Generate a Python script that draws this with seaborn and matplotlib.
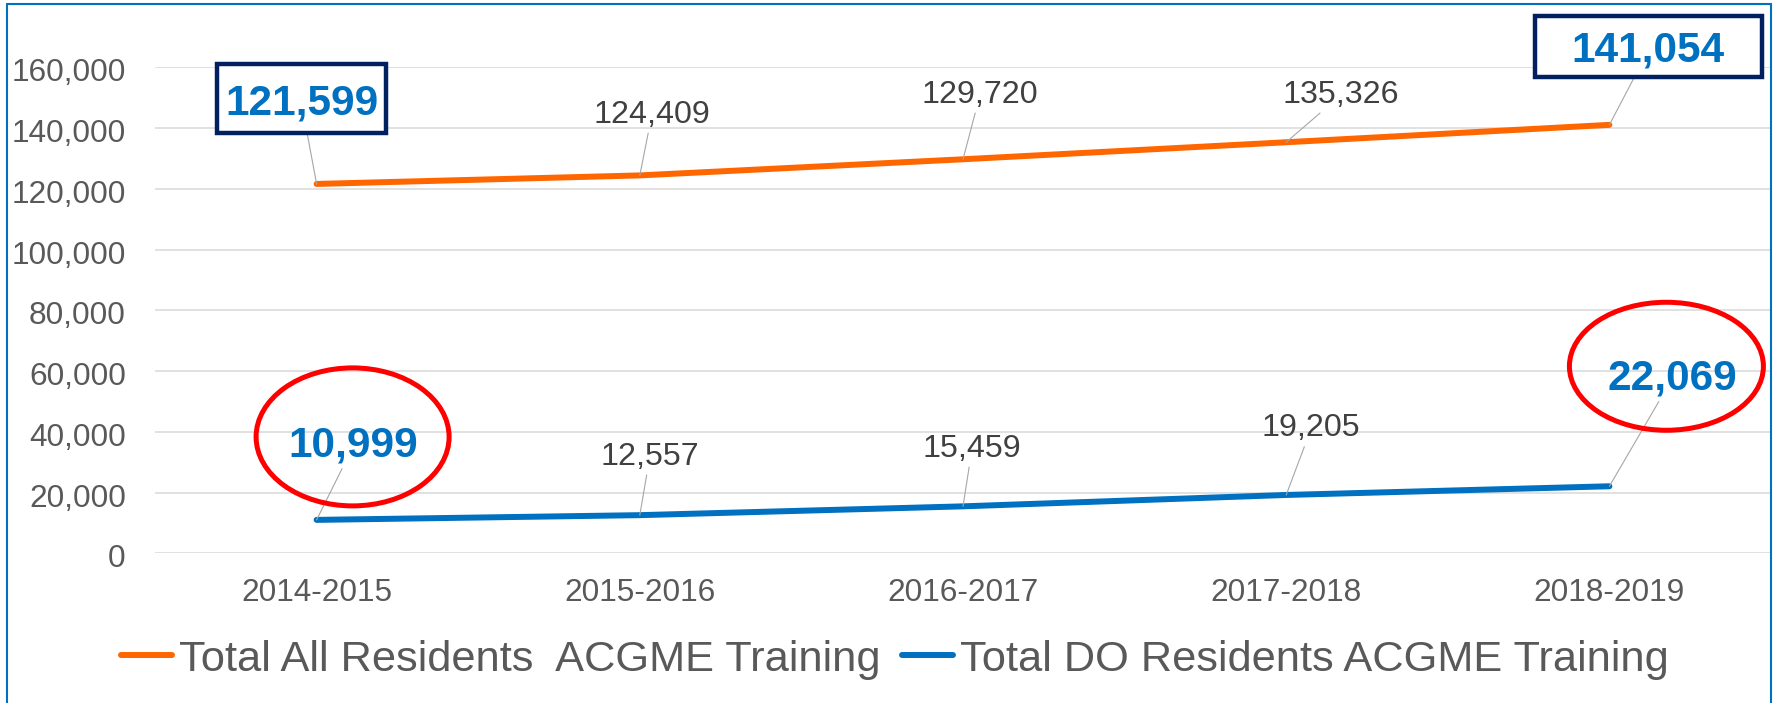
import matplotlib
matplotlib.use("Agg")
import matplotlib.pyplot as plt
import matplotlib.transforms as mtransforms
from matplotlib.path import Path
from matplotlib.patches import Ellipse
from matplotlib.lines import Line2D
from matplotlib.ticker import FixedLocator, FuncFormatter
from functools import partial
import pandas as pd
import seaborn as sns

# ---------------- data ----------------
years = ["2014-2015", "2015-2016", "2016-2017", "2017-2018", "2018-2019"]
all_residents = [121599, 124409, 129720, 135326, 141054]
do_residents = [10999, 12557, 15459, 19205, 22069]
series_names = ["Total All Residents  ACGME Training",
                "Total DO Residents ACGME Training"]
y_ticks = [0, 20000, 40000, 60000, 80000, 100000, 120000, 140000, 160000]

# ---------------- style ----------------
ORANGE = "#FF6600"
BLUE = "#0070C0"
NAVY = "#002060"
GRID = "#D9D9D9"
TICK = "#595959"
LABEL = "#404040"
LEADER = "#A6A6A6"

W, H, DPI = 1776, 703, 100

sns.set_theme(style="white")
plt.rcParams["font.family"] = ["Liberation Sans", "DejaVu Sans"]

fig = plt.figure(figsize=(W / DPI, H / DPI), dpi=DPI)
fig.patch.set_facecolor("white")
ax = fig.add_axes([155 / W, (H - 553.3) / H, (1771 - 155) / W, (553.3 - 67.3) / H])

df = pd.DataFrame({
    "Year": years * 2,
    "Residents": all_residents + do_residents,
    "Series": [series_names[0]] * len(years) + [series_names[1]] * len(years),
})
sns.lineplot(data=df, x="Year", y="Residents", hue="Series",
             palette=[ORANGE, BLUE], linewidth=4.3, sort=False,
             legend=False, ax=ax, solid_capstyle="round", zorder=3)

ax.set_xlim(-0.5, len(years) - 0.5)
ax.set_ylim(y_ticks[0], y_ticks[-1])
ax.yaxis.set_major_locator(FixedLocator(y_ticks))
ax.yaxis.set_major_formatter(FuncFormatter(lambda v, p: f"{v:,.0f}"))
ax.grid(axis="y", color=GRID, linewidth=1.1)
ax.grid(axis="x", visible=False)
ax.set_axisbelow(True)
ax.tick_params(axis="both", length=0, labelsize=22.8, labelcolor=TICK)
ax.tick_params(axis="y", pad=21)
ax.tick_params(axis="x", pad=18)
ax.set_xlabel("")
ax.set_ylabel("")
for s in ax.spines.values():
    s.set_visible(False)
ytl_shift = mtransforms.ScaledTranslation(0, -2.5 / DPI, fig.dpi_scale_trans)
for lab in ax.get_yticklabels():
    lab.set_transform(lab.get_transform() + ytl_shift)


def rect_box(x0, y0, width, height, mutation_size, padx=0.3, padtop=0.3, padbottom=0.3):
    px = padx * mutation_size
    pt, pb = padtop * mutation_size, padbottom * mutation_size
    verts = [(x0 - px, y0 - pb), (x0 + width + px, y0 - pb),
             (x0 + width + px, y0 + height + pt), (x0 - px, y0 + height + pt),
             (x0 - px, y0 - pb)]
    return Path(verts, closed=True)


# label offsets (pixels, relative to the point)
all_offsets = [(-15, 80.5), (12, 60.5), (17, 64.5), (55, 47.5), (39, 74.5)]
do_offsets = [(37, 74.5), (10, 58.5), (9, 57.5), (25, 66.5), (63, 108)]
all_box_pads = {0: (0.19, 0.45, 0.215), 4: (0.87, 0.35, 0.15)}
do_ellipses = {0: (36, 83, 193, 138), 4: (57, 120, 194, 128)}

arrow = dict(arrowstyle="-", color=LEADER, lw=0.8, shrinkA=0, shrinkB=0)
NORMAL_FS, BOLD_FS = 23.2, 30.5

for i, (v, (dx, dy)) in enumerate(zip(all_residents, all_offsets)):
    if i in all_box_pads:
        padx, pt, pb = all_box_pads[i]
        ax.annotate(f"{v:,}", xy=(i, v), xytext=(dx, dy), textcoords="offset pixels",
                    ha="center", va="center", fontsize=BOLD_FS, fontweight="bold", color=BLUE,
                    bbox=dict(boxstyle=partial(rect_box, padx=padx, padtop=pt, padbottom=pb),
                              fc="white", ec=NAVY, lw=3.2),
                    arrowprops=arrow, annotation_clip=False, zorder=5)
    else:
        ax.annotate(f"{v:,}", xy=(i, v), xytext=(dx, dy), textcoords="offset pixels",
                    ha="center", va="center", fontsize=NORMAL_FS, color=LABEL,
                    arrowprops=arrow, annotation_clip=False, zorder=5)

for i, (v, (dx, dy)) in enumerate(zip(do_residents, do_offsets)):
    if i in do_ellipses:
        ax.annotate(f"{v:,}", xy=(i, v), xytext=(dx, dy), textcoords="offset pixels",
                    ha="center", va="center", fontsize=BOLD_FS, fontweight="bold", color=BLUE,
                    arrowprops=arrow, annotation_clip=False, zorder=5)
        ex, ey, ew, eh = do_ellipses[i]
        ell = Ellipse((ex, ey), ew, eh, fill=False, ec="#FF0000", lw=3.6,
                      transform=mtransforms.ScaledTranslation(i, v, ax.transData),
                      clip_on=False, zorder=6)
        ax.add_artist(ell)
    else:
        ax.annotate(f"{v:,}", xy=(i, v), xytext=(dx, dy), textcoords="offset pixels",
                    ha="center", va="center", fontsize=NORMAL_FS, color=LABEL,
                    arrowprops=arrow, annotation_clip=False, zorder=5)

handles = [Line2D([], [], color=ORANGE, lw=4.3), Line2D([], [], color=BLUE, lw=4.3)]
fig.legend(handles, series_names, loc="center", bbox_to_anchor=(0.504, (H - 659.5) / H),
           ncol=2, frameon=False, fontsize=31.2, handlelength=1.18, handletextpad=0.16,
           columnspacing=0.5, labelcolor=TICK)

# chart border
bx0, bx1, by1 = 7.3 / W, 1771 / W, (H - 4) / H
for xs, ys in [([bx0, bx0], [0, by1]), ([bx0, bx1], [by1, by1]), ([bx1, bx1], [by1, 0])]:
    fig.add_artist(Line2D(xs, ys, transform=fig.transFigure, color=BLUE, lw=1.5))

fig.savefig("out.png", dpi=DPI)
